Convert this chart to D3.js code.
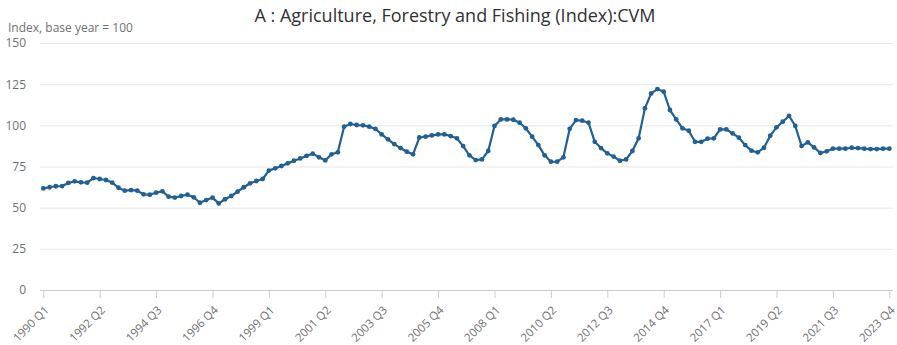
<!DOCTYPE html>
<html>
<head>
<meta charset="utf-8">
<script src="https://cdn.jsdelivr.net/npm/d3@7"></script>
<style>
  html, body { margin: 0; padding: 0; background: #fff; }
  svg { display: block; font-family: "Open Sans", sans-serif; }
</style>
</head>
<body>
<svg id="chart" width="897" height="345"></svg>
<script>
const title = "A : Agriculture, Forestry and Fishing (Index):CVM";
const yAxisTitle = "Index, base year = 100";
const startYear = 1990;
const endYear = 2023;
const quarters = ["Q1", "Q2", "Q3", "Q4"];
const xTickLabels = ["1990 Q1","1992 Q2","1994 Q3","1996 Q4","1999 Q1","2001 Q2","2003 Q3","2005 Q4",
  "2008 Q1","2010 Q2","2012 Q3","2014 Q4","2017 Q1","2019 Q2","2021 Q3","2023 Q4"];
const yTicks = [0, 25, 50, 75, 100, 125, 150];
const values = [
  61.7, 62.4, 63.0, 63.1,   65.0, 66.0, 65.4, 65.2,   68.0, 67.4, 66.8, 65.2,
  62.1, 60.3, 60.7, 60.3,   58.1, 57.9, 59.1, 59.9,   56.7, 56.1, 57.1, 57.9,
  56.3, 53.0, 54.6, 56.1,   52.6, 55.1, 57.1, 59.7,   62.4, 64.8, 66.2, 67.4,
  72.5, 73.9, 75.3, 76.9,   78.5, 79.9, 81.4, 82.8,   80.6, 78.7, 82.4, 83.6,
  99.2, 100.8, 100.2, 100.0, 99.2, 97.8, 94.5, 91.5,  88.6, 86.2, 84.0, 82.4,
  92.6, 93.1, 93.9, 94.5,   94.5, 93.5, 92.1, 87.4,   81.8, 78.9, 79.3, 84.4,
  99.6, 103.6, 103.6, 103.4, 101.6, 98.2, 93.1, 88.0,  81.8, 77.9, 77.9, 80.6,
  97.9, 103.2, 102.8, 101.6, 90.0, 86.2, 83.0, 81.0,  78.5, 79.3, 84.4, 92.1,
  110.3, 119.4, 122.0, 120.4, 109.3, 103.6, 98.2, 96.7, 90.0, 90.0, 91.9, 92.1,
  97.5, 97.5, 95.1, 92.5,   88.0, 84.6, 83.6, 86.4,   93.7, 98.8, 102.2, 105.8,
  99.6, 87.4, 89.7, 86.6,   83.2, 84.2, 85.8, 85.8,   85.8, 86.4, 86.2, 85.8,
  85.6, 85.6, 85.8, 85.8
];

const categories = [];
for (let y = startYear; y <= endYear; y++) for (const q of quarters) categories.push(y + " " + q);
const data = categories.map((c, i) => ({ c, v: values[i] }));

const svg = d3.select("#chart");
const W = 897, H = 345;
const margin = { left: 43.3, right: 897 - 889.3, top: 43, bottom: 345 - 290 };

const x = d3.scalePoint().domain(categories).range([margin.left, W - margin.right]);
const y = d3.scaleLinear().domain([0, 150]).range([H - margin.bottom, margin.top]);

// Title
svg.append("text")
  .attr("x", 455).attr("y", 22)
  .attr("text-anchor", "middle")
  .attr("font-size", 18).attr("fill", "#323132")
  .text(title);

svg.append("text")
  .attr("x", 8).attr("y", 32)
  .attr("font-size", 12).attr("fill", "#707071")
  .text(yAxisTitle);

// Gridlines + y labels
const yAxis = d3.axisLeft(y).tickValues(yTicks).tickSize(-(893 - 40)).tickPadding(14);
const gy = svg.append("g").attr("transform", "translate(40,0)").call(yAxis);
gy.select(".domain").remove();
gy.selectAll(".tick line").attr("stroke", "#e6e6e6").attr("stroke-width", 1);
gy.selectAll(".tick text").attr("font-size", 12).attr("fill", "#707071")
  .attr("font-family", "'Open Sans', sans-serif");
gy.selectAll(".tick").filter(d => d === 0).select("line").attr("stroke", "#cccccc");

// X axis
const xAxis = d3.axisBottom(x).tickValues(xTickLabels).tickSize(8).tickSizeOuter(0);
const gx = svg.append("g").attr("transform", `translate(0,${H - margin.bottom})`).call(xAxis);
gx.select(".domain").remove();
gx.selectAll(".tick line").attr("stroke", "#cccccc");
gx.selectAll(".tick text")
  .attr("font-size", 11.5).attr("fill", "#707071")
  .attr("font-family", "'Open Sans', sans-serif")
  .attr("text-anchor", "end")
  .attr("dx", 0).attr("dy", 0)
  .attr("transform", "translate(-2,13) rotate(-45)");

// Line
const line = d3.line().x(d => x(d.c)).y(d => y(d.v));
svg.append("path").datum(data)
  .attr("fill", "none").attr("stroke", "#206095")
  .attr("stroke-width", 2.2).attr("stroke-linejoin", "round")
  .attr("d", line);

svg.append("g").selectAll("circle").data(data).join("circle")
  .attr("cx", d => x(d.c)).attr("cy", d => y(d.v))
  .attr("r", 2.4).attr("fill", "#206095");
</script>
</body>
</html>
